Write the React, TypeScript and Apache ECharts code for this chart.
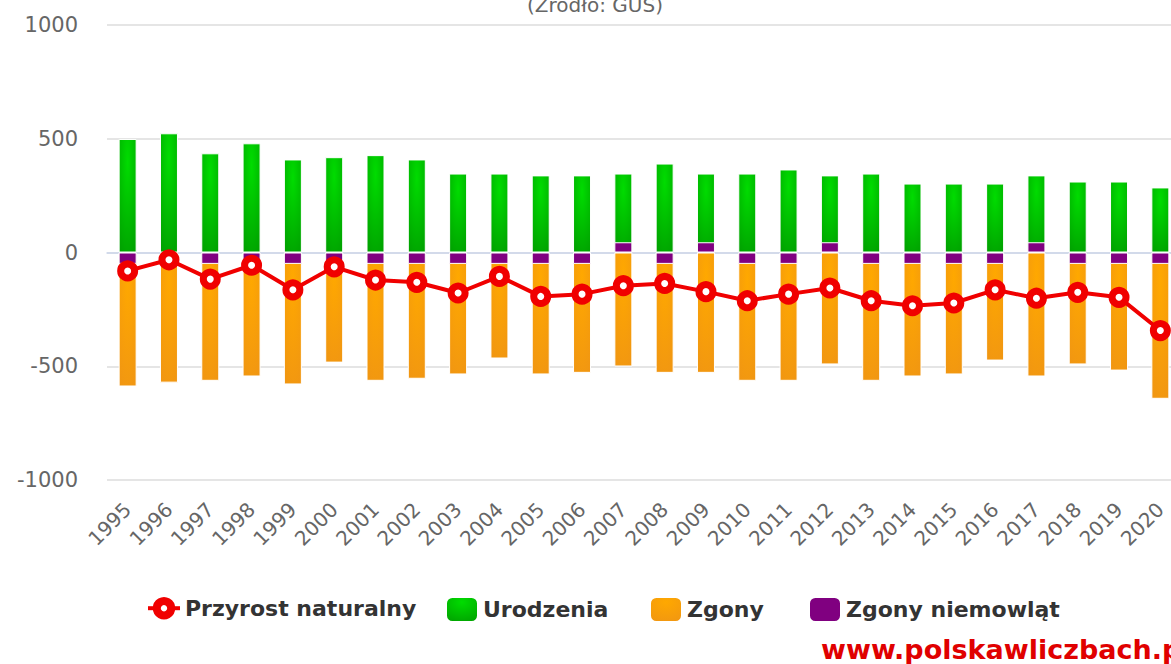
import React, { useEffect, useRef } from "react";
import * as echarts from "echarts";

const lata = ["1995","1996","1997","1998","1999","2000","2001","2002","2003","2004","2005","2006","2007","2008","2009","2010","2011","2012","2013","2014","2015","2016","2017","2018","2019","2020"];
const urodzenia = [499,524,436,480,409,419,428,409,347,347,339,339,347,391,347,347,365,339,347,303,303,303,339,312,312,286];
const zgony = [-589,-572,-564,-545,-580,-484,-564,-555,-536,-466,-536,-529,-501,-529,-529,-564,-564,-492,-564,-545,-536,-475,-545,-492,-519,-643];
const zgonyNiemowlat = [-50,-50,-50,-50,-50,-50,-50,-50,-50,-50,-50,-50,45,-50,45,-50,-50,45,-50,-50,-50,-50,45,-50,-50,-50];
const przyrost = [-81,-32,-117,-56,-164,-63,-121,-131,-178,-105,-193,-183,-146,-136,-172,-212,-183,-156,-212,-234,-222,-164,-201,-175,-197,-343];
const yTicks = [-1000, -500, 0, 500, 1000];

export default function App() {
  const ref = useRef<HTMLDivElement>(null);
  useEffect(() => {
    const chart = echarts.init(ref.current!, undefined, { renderer: "svg" });
    const font = "'DejaVu Sans', Verdana, sans-serif";
    const green = {
      type: "radial", x: 0.5, y: 0.2, r: 1.0,
      colorStops: [{ offset: 0, color: "#00dc00" }, { offset: 1, color: "#009a00" }],
    };
    const orange = {
      type: "radial", x: 0.5, y: 0.2, r: 1.0,
      colorStops: [{ offset: 0, color: "#ffa800" }, { offset: 1, color: "#ef9414" }],
    };
    const legendText = { fontSize: 22, fontWeight: "bold", color: "#333", fontFamily: font };
    chart.setOption({
      animation: false,
      grid: { left: 107, right: 9, top: 25, bottom: 184, containLabel: false },
      graphic: [
        { type: "text", left: "center", top: -5, style: { text: "(Źródło: GUS)", fontSize: 20, fill: "#666", fontFamily: font } },
        { type: "text", left: 821, top: 636, style: { text: "www.polskawliczbach.pl", fontSize: 27, fontWeight: "bold", fill: "#e00000", fontFamily: font } },
      ],
      legend: [
        {
          data: ["Przyrost naturalny"], left: 141, top: 592, itemWidth: 32, itemHeight: 18, itemGap: 11,
          textStyle: legendText,
          lineStyle: { width: 4 },
          itemStyle: { borderWidth: 8 },
        },
        {
          data: ["Urodzenia"], left: 440, top: 591, itemWidth: 32, itemHeight: 25,
          textStyle: legendText,
        },
        {
          data: ["Zgony"], left: 644, top: 591, itemWidth: 32, itemHeight: 25,
          textStyle: legendText,
        },
        {
          data: ["Zgony niemowląt"], left: 803, top: 591, itemWidth: 32, itemHeight: 25,
          textStyle: legendText,
        },
      ],
      xAxis: {
        type: "category", data: lata, boundaryGap: true,
        axisLine: { lineStyle: { color: "#ccd6eb", width: 1.5 } },
        axisTick: { length: 18, lineStyle: { color: "#ccd6eb", width: 1.5 } },
        axisLabel: { rotate: 45, fontSize: 20, color: "#666", fontFamily: font, margin: 26, interval: 0 },
      },
      yAxis: {
        type: "value", min: yTicks[0], max: yTicks[yTicks.length - 1], interval: 500,
        axisLabel: { fontSize: 21, color: "#666", fontFamily: font, margin: 29, formatter: (v: number) => String(v) },
        splitLine: { lineStyle: { color: "#dcdcdc", width: 1.5 } },
        axisLine: { show: false }, axisTick: { show: false },
      },
      series: [
        {
          name: "Urodzenia", type: "bar", data: urodzenia, barWidth: 18, barGap: "-100%",
          itemStyle: { color: green, borderColor: "#fff", borderWidth: 1 },
        },
        {
          name: "Zgony", type: "bar", data: zgony, barWidth: 18, barGap: "-100%",
          itemStyle: { color: orange, borderColor: "#fff", borderWidth: 1 },
        },
        {
          name: "Zgony niemowląt", type: "bar", data: zgonyNiemowlat, barWidth: 18, barGap: "-100%",
          itemStyle: { color: "#800080", borderColor: "#fff", borderWidth: 1 },
        },
        {
          name: "Przyrost naturalny", type: "line", data: przyrost, z: 5,
          symbol: "circle", symbolSize: 14,
          lineStyle: { color: "#f00000", width: 4 },
          itemStyle: { color: "#ffffff", borderColor: "#f00000", borderWidth: 7 },
        },
      ],
    });
    return () => chart.dispose();
  }, []);
  return <div ref={ref} style={{ position: "fixed", left: 0, top: 0, width: 1190, height: 664, background: "#fff" }} />;
}
